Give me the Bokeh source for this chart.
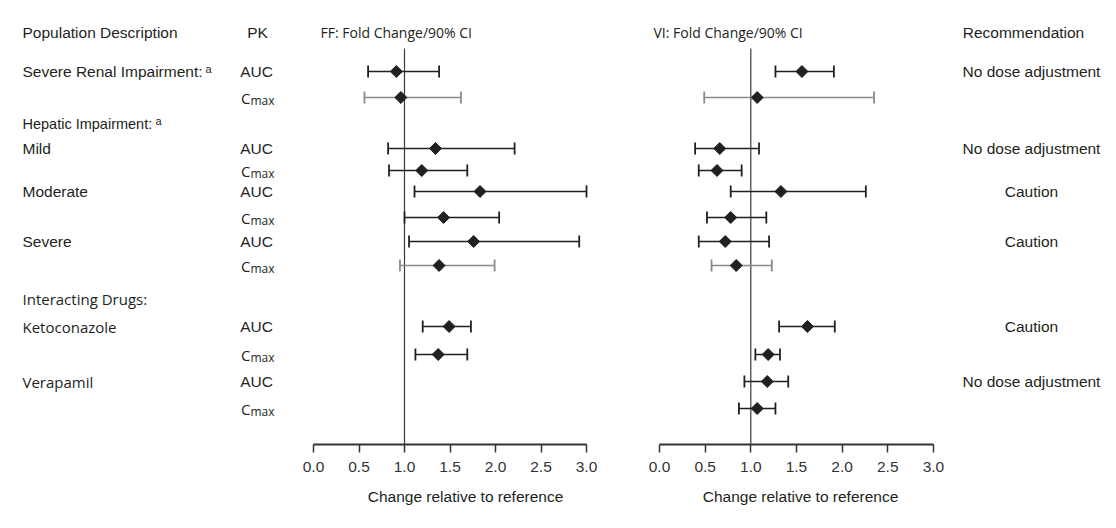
import math
from bokeh.plotting import figure
from bokeh.layouts import row
from bokeh.models import ColumnDataSource, Range1d, FixedTicker
from bokeh.core.properties import value
from bokeh.embed import file_html
from bokeh.resources import INLINE

# ---------------- data ----------------
row_group = ["Severe Renal Impairment:", "", "Hepatic Impairment:", "Mild", "", "Moderate", "",
             "Severe", "", "Interacting Drugs:", "Ketoconazole", "", "Verapamil", ""]
row_sup = ["a", "", "a", "", "", "", "", "", "", "", "", "", "", ""]
row_pk = ["AUC", "Cmax", "", "AUC", "Cmax", "AUC", "Cmax", "AUC", "Cmax", "", "AUC", "Cmax", "AUC", "Cmax"]
recommendation = ["No dose adjustment", "", "", "No dose adjustment", "", "Caution", "", "Caution", "",
                  "", "Caution", "", "No dose adjustment", ""]
nan = float("nan")
ff_est = [0.91, 0.96, nan, 1.34, 1.19, 1.83, 1.43, 1.76, 1.38, nan, 1.49, 1.37, nan, nan]
ff_lo = [0.60, 0.56, nan, 0.82, 0.83, 1.11, 1.00, 1.05, 0.95, nan, 1.20, 1.12, nan, nan]
ff_hi = [1.38, 1.62, nan, 2.21, 1.69, 3.00, 2.04, 2.92, 1.99, nan, 1.73, 1.69, nan, nan]
vi_est = [1.56, 1.07, nan, 0.66, 0.63, 1.33, 0.78, 0.72, 0.84, nan, 1.62, 1.19, 1.18, 1.07]
vi_lo = [1.27, 0.49, nan, 0.39, 0.43, 0.78, 0.52, 0.43, 0.57, nan, 1.31, 1.05, 0.93, 0.87]
vi_hi = [1.91, 2.35, nan, 1.09, 0.90, 2.26, 1.17, 1.20, 1.23, nan, 1.92, 1.32, 1.41, 1.27]
tick_values = [0.0, 0.5, 1.0, 1.5, 2.0, 2.5, 3.0]
tick_labels = ["0.0", "0.5", "1.0", "1.5", "2.0", "2.5", "3.0"]
reference_value = 1.0

# ---------------- layout / style ----------------
ROW_Y = [71, 97, 123, 148, 170, 191, 217, 241, 265, 298, 326, 354, 381, 408]  # row slots (px from top)
HEAD_Y = 32
REF_TOP = 48
FRAME_H = 444
MYRIAD_ROWS = {"Interacting Drugs:", "Ketoconazole", "Verapamil"}
GRAY_ROWS = {1, 8}
INK = "#231f20"
GRAY = "#8a8a8a"
ARIAL = value("Liberation Sans")
MYRIAD = value("Open Sans")
FS = "15.5px"


def base(fw, xr, axis=False):
    p = figure(frame_width=fw, frame_height=FRAME_H, x_range=xr, y_range=Range1d(FRAME_H, 0),
               output_backend="svg", toolbar_location=None, title=None,
               x_axis_location="below" if axis else None, y_axis_location=None,
               min_border_left=0, min_border_right=0, min_border_top=0, min_border_bottom=0)
    p.outline_line_color = None
    p.grid.visible = False
    p.background_fill_color = "white"
    p.border_fill_color = "white"
    return p


def txt(p, x, y, t, font=ARIAL, size=FS, align="left", x_off=0, y_off=0, color=INK):
    p.text(x=x, y=y, text=t, text_font=font, text_font_size=size, text_baseline="middle",
           text_align=align, text_color=color, x_offset=x_off, y_offset=y_off)


# ---------- left labels ----------
left = base(290, Range1d(0, 290))
txt(left, [22], [HEAD_Y], ["Population Description"])
txt(left, [257], [HEAD_Y], ["PK"], align="center")
for i, g in enumerate(row_group):
    if not g:
        continue
    if g in MYRIAD_ROWS:
        txt(left, [22], [ROW_Y[i]], [g], font=MYRIAD, size="15px")
    elif g == "Hepatic Impairment:":
        txt(left, [22], [ROW_Y[i]], [g], size="14.5px")
    else:
        txt(left, [22], [ROW_Y[i]], [g])
sup_x = {0: 205, 2: 155}
for i, s in enumerate(row_sup):
    if s:
        txt(left, [sup_x[i]], [ROW_Y[i]], [s], size="11px", y_off=-3)
auc_y = [ROW_Y[i] for i, k in enumerate(row_pk) if k == "AUC"]
cmax_y = [ROW_Y[i] for i, k in enumerate(row_pk) if k == "Cmax"]
txt(left, [256] * len(auc_y), auc_y, ["AUC"] * len(auc_y), align="center")
txt(left, [250] * len(cmax_y), cmax_y, ["C"] * len(cmax_y), font=MYRIAD, size="15px", align="right")
txt(left, [250] * len(cmax_y), cmax_y, ["max"] * len(cmax_y), font=MYRIAD, size="12px", y_off=3)


def forest(fw, x0px, scale, est, lo, hi, header, head_off):
    xr = Range1d((0 - x0px) / scale, (fw - x0px) / scale)
    p = base(fw, xr, axis=True)
    idx = [i for i in range(len(est)) if not math.isnan(est[i])]
    src = ColumnDataSource(dict(
        y=[ROW_Y[i] for i in idx], est=[est[i] for i in idx], lo=[lo[i] for i in idx],
        hi=[hi[i] for i in idx], color=[GRAY if i in GRAY_ROWS else INK for i in idx]))
    p.segment(x0=[reference_value], x1=[reference_value], y0=[REF_TOP], y1=[FRAME_H],
              line_color="#3a3a3a", line_width=1.2)
    p.segment(x0="lo", x1="hi", y0="y", y1="y", line_color="color", line_width=1.7, source=src)
    for col in ("lo", "hi"):
        p.scatter(x=col, y="y", marker="dash", angle=math.pi / 2, size=12, line_color="color",
                  line_width=1.8, source=src)
    p.scatter(x="est", y="y", marker="square", angle=math.pi / 4, size=8.5, fill_color=INK,
              line_color=INK, source=src)
    txt(p, [0], [HEAD_Y], [header], font=MYRIAD, size="14px", x_off=head_off)
    ax = p.xaxis[0]
    ax.bounds = (tick_values[0], tick_values[-1])
    ax.ticker = FixedTicker(ticks=tick_values)
    ax.major_label_overrides = {v: l for v, l in zip(tick_values, tick_labels)}
    ax.minor_tick_line_color = None
    ax.major_tick_in = 0
    ax.major_tick_out = 8
    ax.major_tick_line_width = 1.5
    ax.major_tick_line_color = "#333333"
    ax.axis_line_width = 2
    ax.axis_line_color = "#333333"
    ax.major_label_text_font = "Liberation Sans"
    ax.major_label_text_font_size = FS
    ax.major_label_text_color = "#333333"
    ax.major_label_standoff = 9
    ax.axis_label = "Change relative to reference"
    ax.axis_label_text_font = "Liberation Sans"
    ax.axis_label_text_font_size = FS
    ax.axis_label_text_font_style = "normal"
    ax.axis_label_text_color = INK
    ax.axis_label_standoff = 13
    return p


ff = forest(350, 23, 91.0, ff_est, ff_lo, ff_hi, "FF: Fold Change/90% CI", 7)
vi = forest(320, 19, 91.3, vi_est, vi_lo, vi_hi, "VI: Fold Change/90% CI", -6)

# ---------- recommendations ----------
right = base(148, Range1d(960, 1108))
txt(right, [1023], [HEAD_Y], ["Recommendation"], align="center")
rec = [(ROW_Y[i], r) for i, r in enumerate(recommendation) if r]
txt(right, [1031] * len(rec), [r[0] for r in rec], [r[1] for r in rec], align="center")

layout = row(left, ff, vi, right)
open("out.html", "w").write(file_html(layout, INLINE))
